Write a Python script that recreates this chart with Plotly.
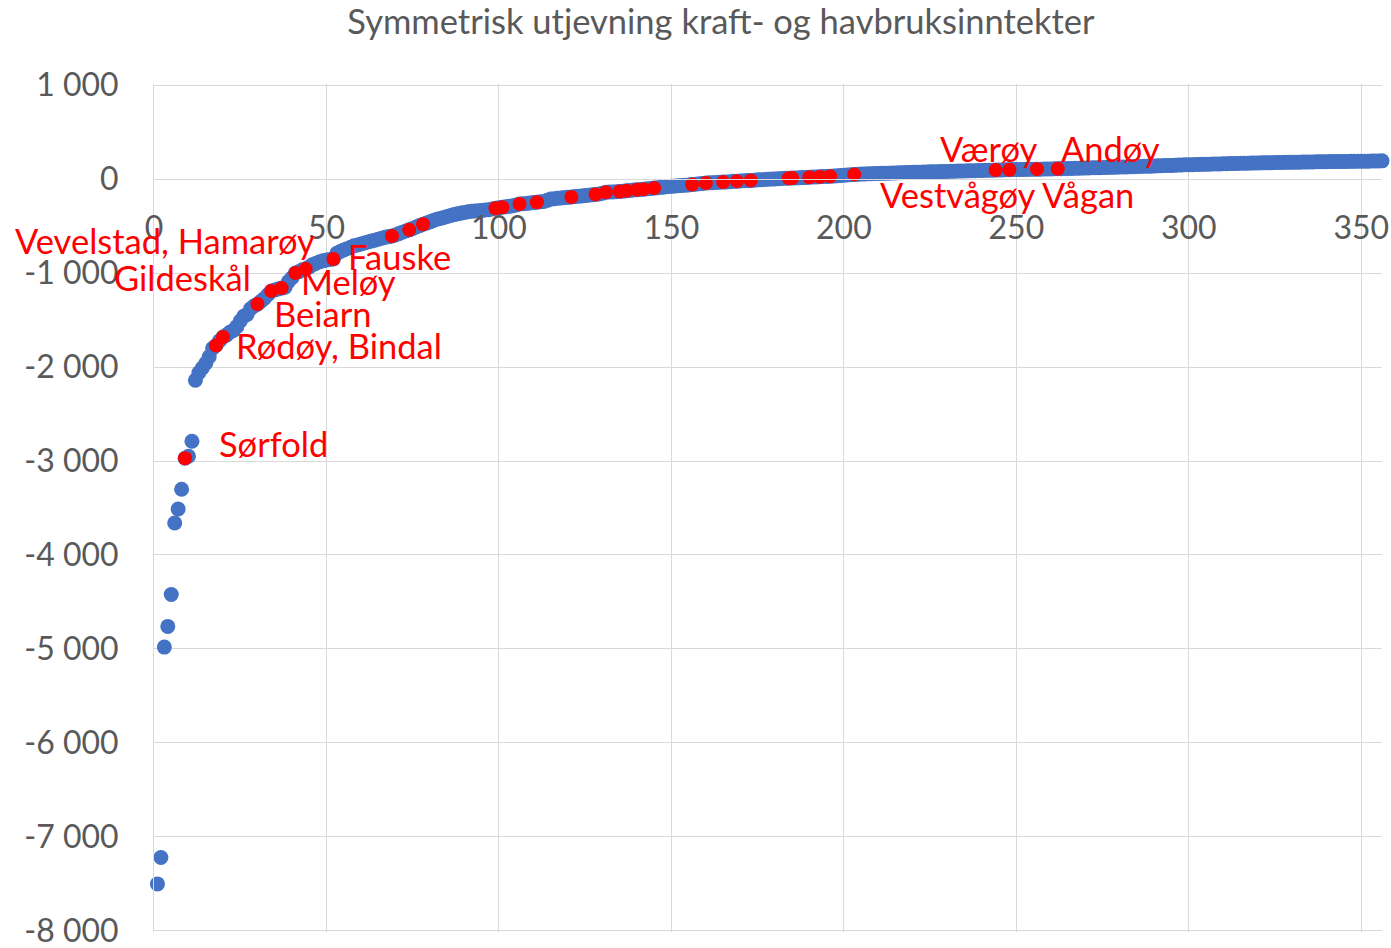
import plotly.graph_objects as go

# sorted values per kommune (index 1..356)
values = [
    -7500, -7220, -4980, -4760, -4420, -3660, -3510, -3300, -2970, -2950,
    -2790, -2140, -2060, -2010, -1960, -1890, -1800, -1770, -1720, -1680,
    -1660, -1630, -1610, -1570, -1510, -1460, -1440, -1380, -1350, -1330,
    -1300, -1270, -1230, -1190, -1180, -1170, -1160, -1150, -1090, -1050,
    -1000, -985, -965, -955, -935, -910, -895, -880, -870, -860,
    -855, -850, -790, -770, -755, -740, -725, -710, -700, -690,
    -680, -670, -660, -650, -640, -630, -620, -612, -605, -595,
    -580, -565, -552, -540, -525, -510, -495, -480, -468, -455,
    -440, -428, -418, -408, -398, -388, -378, -370, -362, -355,
    -348, -343, -340, -336, -333, -329, -325, -318, -310, -305,
    -300, -295, -290, -283, -275, -265, -262, -259, -255, -250,
    -246, -242, -238, -226, -213, -208, -204, -200, -197, -194,
    -190, -186, -182, -179, -175, -171, -167, -163, -159, -150,
    -140, -138, -136, -134, -132, -128, -124, -120, -116, -113,
    -110, -107, -104, -100, -96, -92, -88, -84, -80, -77,
    -74, -71, -68, -65, -62, -58, -54, -50, -46, -42,
    -40, -38, -36, -34, -32, -30, -27, -24, -22, -20,
    -18, -16, -14, -11, -8, -6, -4, -2, 0, 2,
    4, 6, 8, 10, 11, 12, 14, 16, 18, 20,
    22, 23, 25, 27, 28, 30, 32, 35, 38, 41,
    44, 47, 50, 52, 53, 55, 56, 58, 59, 60,
    61, 62, 63, 65, 66, 67, 68, 69, 70, 72,
    73, 74, 75, 76, 77, 78, 79, 80, 81, 82,
    83, 84, 85, 86, 87, 88, 89, 90, 91, 92,
    93, 94, 95, 96, 97, 98, 99, 100, 101, 102,
    103, 103, 104, 104, 105, 106, 106, 107, 108, 108,
    109, 110, 111, 112, 113, 114, 115, 116, 117, 118,
    119, 120, 121, 122, 123, 124, 125, 126, 127, 128,
    129, 130, 131, 132, 134, 135, 136, 137, 138, 140,
    141, 142, 144, 145, 146, 148, 149, 150, 152, 153,
    154, 155, 156, 157, 158, 159, 160, 161, 162, 163,
    164, 165, 166, 167, 168, 168, 169, 170, 171, 172,
    173, 173, 174, 175, 176, 176, 177, 178, 178, 179,
    180, 180, 181, 182, 182, 183, 184, 184, 185, 185,
    186, 186, 187, 187, 188, 188, 189, 189, 190, 190,
    191, 191, 192, 192, 193, 194,
]
rank = list(range(1, len(values) + 1))

# highlighted kommuner (Nordland), by rank
red_rank = [9, 18, 20, 30, 34, 37, 41, 44, 52, 69, 74, 78, 99, 101, 106, 111,
            121, 128, 131, 135, 137, 140, 142, 145, 156, 160, 165, 169, 173,
            184, 185, 190, 193, 196, 203, 244, 248, 256, 262]
red_values = [values[i - 1] for i in red_rank]

y_ticks = [1000, 0, -1000, -2000, -3000, -4000, -5000, -6000, -7000, -8000]
y_tick_text = ["1 000", "0", "-1 000", "-2 000", "-3 000", "-4 000",
               "-5 000", "-6 000", "-7 000", "-8 000"]

# label text, x, y (data units)
labels = [
    ("Vevelstad, Hamarøy", -40.9, -658),
    ("Gildeskål", -12.2, -1051),
    ("Fauske", 55.7, -828),
    ("Meløy", 42.1, -1093),
    ("Beiarn", 34.2, -1433),
    ("Rødøy, Bindal", 23.2, -1773),
    ("Sørfold", 18.3, -2813),
    ("Værøy", 227.2, 329),
    ("Andøy", 262.3, 329),
    ("Vestvågøy Vågan", 210.0, -159),
]

grey = "#D9D9D9"
text_grey = "#595959"
font = "Lato"
x_min, x_max = 0, 356
y_min, y_max = -8012, 1012   # small pad so the edge gridlines are kept

fig = go.Figure()
fig.add_trace(go.Scatter(x=rank, y=values, mode="markers",
                         marker=dict(color="#4472C4", size=15), cliponaxis=False))
fig.add_trace(go.Scatter(x=red_rank, y=red_values, mode="markers",
                         marker=dict(color="#FF0000", size=14), cliponaxis=False))

# paper x so labels left of the y axis are still shown
for txt, x, y in labels:
    fig.add_annotation(x=(x - x_min) / (x_max - x_min), xref="paper", y=y, yref="y",
                       text=txt, showarrow=False, xanchor="left", yanchor="middle",
                       font=dict(color="#FF0000", size=34.5, family=font))

fig.update_layout(
    width=1391, height=948,
    margin=dict(l=154, r=9, t=84, b=16, autoexpand=False),
    paper_bgcolor="white", plot_bgcolor="white",
    showlegend=False,
    title=dict(text="Symmetrisk utjevning kraft- og havbruksinntekter",
               x=721 / 1391, xanchor="center", y=1 - 22 / 948, yanchor="middle",
               font=dict(size=34.5, color=text_grey, family=font)),
    font=dict(family=font, color=text_grey),
)
fig.update_xaxes(range=[x_min, x_max], dtick=50, tick0=0, showgrid=True, gridcolor=grey,
                 zeroline=False, showline=True, linecolor=grey, linewidth=1,
                 anchor="free", position=(0 - y_min) / (y_max - y_min),
                 ticks="", ticklabelstandoff=21, ticklabeloverflow="allow",
                 tickfont=dict(size=32, color=text_grey, family=font))
fig.update_yaxes(range=[y_min, y_max], tickvals=y_ticks, ticktext=y_tick_text,
                 showgrid=True, gridcolor=grey, zeroline=False,
                 showline=True, linecolor=grey, linewidth=1, ticks="",
                 ticklabelstandoff=28, ticklabeloverflow="allow",
                 tickfont=dict(size=32, color=text_grey, family=font))

# drop the default body margin so the figure fills the window exactly
fig.write_html("out.html", config={"displayModeBar": False},
               post_script="document.body.style.margin = '0';")
